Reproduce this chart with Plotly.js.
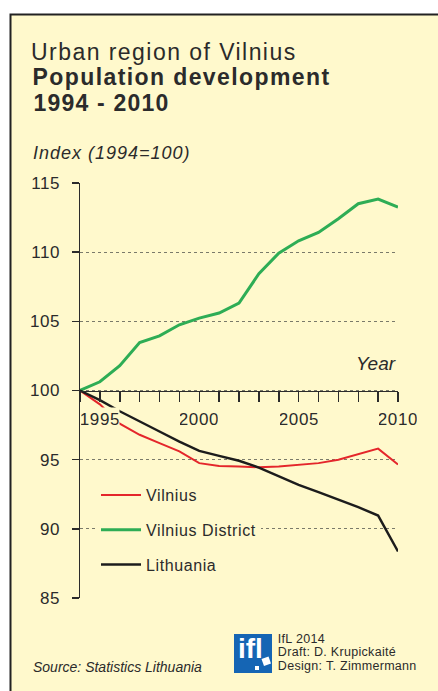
<!DOCTYPE html>
<html>
<head>
<meta charset="utf-8">
<script src="https://cdn.plot.ly/plotly-3.0.1.min.js"></script>
<style>
html,body{margin:0;padding:0;background:#fff;}
#chart{width:438px;height:691px;}
.gtitle{letter-spacing:1.45px;}
.legendtext{letter-spacing:0.6px;}
.ytick text{letter-spacing:0.6px;}
</style>
</head>
<body>
<div id="chart"></div>
<script>
// ---- data ----
const years = [1994, 1995, 1996, 1997, 1998, 1999, 2000, 2001, 2002, 2003, 2004, 2005, 2006, 2007, 2008, 2009, 2010];
const vilnius = [100, 99.0, 97.6, 96.8, 96.2, 95.6, 94.75, 94.55, 94.5, 94.45, 94.5, 94.6, 94.75, 95.0, 95.4, 95.8, 94.65];
const vilniusDistrict = [100, 100.63, 101.79, 103.47, 103.95, 104.75, 105.23, 105.6, 106.32, 108.44, 109.93, 110.82, 111.43, 112.42, 113.5, 113.84, 113.26];
const lithuania = [100, 99.3, 98.5, 97.79, 97.04, 96.31, 95.64, 95.28, 94.92, 94.43, 93.78, 93.18, 92.65, 92.1, 91.57, 90.96, 88.36];
const seriesNames = ['Vilnius', 'Vilnius District', 'Lithuania'];
const xTickYears = [1995, 2000, 2005, 2010];
const xTickLabels = ['1995', '2000', '2005', '2010'];
const yTickVals = [85, 90, 95, 100, 105, 110, 115];
const yTickLabels = ['85', '90', '95', '100', '105', '110', '115'];

// ---- layout helpers ----
const W = 438, H = 691;
const ML = 80, MR = 40, MT = 183, MB = 93;
const PL = ML, PR = W - MR, PT = MT, PB = H - MB;
const fx = px => (px - PL) / (PR - PL);
const fy = py => (PB - py) / (PB - PT);
const FONT = '"Liberation Sans", Arial, Helvetica, sans-serif';
const TXT = '#2b2b2b';
const BG = '#FFF9CC';

const colors = ['#E4262B', '#2EAD55', '#1c1c1c'];
const widths = [2, 3, 2.4];
const values = [vilnius, vilniusDistrict, lithuania];

const traces = values.map((v, i) => ({
  type: 'scatter', mode: 'lines', x: years, y: v, name: seriesNames[i],
  legendgroup: 'g' + i,
  line: {color: colors[i], width: widths[i]}
}));

const annotations = [];
let css = '';
function txt(text, px, py, size, ls, opts) {
  const n = text.replace(/<[^>]+>/g, '').length;
  const anchor = (opts && opts.xanchor) || 'left';
  let shift = 0;
  if (ls) {
    css += 'g.annotation[data-index="' + annotations.length + '"] text{letter-spacing:' + ls + 'px;}\n';
    shift = anchor === 'left' ? ls * n / 2 : (anchor === 'right' ? -ls * n / 2 : 0);
  }
  annotations.push(Object.assign({
    text: text, xref: 'paper', yref: 'paper', x: fx(px + shift), y: fy(py),
    xanchor: 'left', yanchor: 'middle', showarrow: false,
    font: {family: FONT, size: size, color: TXT}
  }, opts || {}));
}
txt('<b>Population development</b>', 31, 76.7, 23, 1.4);
txt('<b>1994 - 2010</b>', 31, 103.3, 23, 1.2);
txt('<i>Index (1994=100)</i>', 31, 153.3, 18, 1);
txt('<i>Year</i>', 397.5, 363.7, 19, 0, {xanchor: 'right'});
txt('<i>Source: Statistics Lithuania</i>', 31, 666.7, 14, 0);
txt('IfL 2014', 276, 638.8, 12.5, 0.3);
txt('Draft: D. Krupickaité', 276, 652.2, 12.5, 0.3);
txt('Design: T. Zimmermann', 276, 666.3, 12.5, 0.3);
txt('<b>ifl</b>', 250, 648, 28, 0, {xanchor: 'center', font: {family: FONT, size: 28, color: '#ffffff'}});

xTickYears.forEach((yr, i) => {
  css += 'g.annotation[data-index="' + annotations.length + '"] text{letter-spacing:0.6px;}\n';
  annotations.push({
    text: xTickLabels[i], xref: 'x', yref: 'paper', x: yr, y: fy(419.3),
    xanchor: 'center', yanchor: 'middle', showarrow: false,
    bgcolor: BG, borderpad: 0, height: 22,
    font: {family: FONT, size: 17, color: TXT}
  });
});
const styleEl = document.createElement('style');
styleEl.textContent = css;
document.head.appendChild(styleEl);

const shapes = [
  {type: 'rect', xref: 'paper', yref: 'paper', x0: fx(10.5), x1: fx(470), y0: fy(730), y1: fy(14.5),
   fillcolor: BG, line: {color: '#222', width: 2}, layer: 'below'},
  {type: 'rect', xref: 'paper', yref: 'paper', x0: fx(234), x1: fx(272), y0: fy(673), y1: fy(634),
   fillcolor: '#1565B4', line: {width: 0}, layer: 'above'},
  {type: 'path', xref: 'paper', yref: 'paper', layer: 'above',
   path: 'M' + fx(261.5) + ',' + fy(659) + ' L' + fx(268.5) + ',' + fy(656.5) + ' L' + fx(271) + ',' + fy(663.5) + ' L' + fx(264) + ',' + fy(666) + ' Z',
   fillcolor: '#ffffff', line: {width: 0}},
  {type: 'rect', xref: 'paper', yref: 'paper', x0: fx(255), x1: fx(259), y0: fy(670), y1: fy(666),
   fillcolor: '#ffffff', line: {width: 0}, layer: 'above'}
];

const layout = {
  width: W, height: H,
  margin: {l: ML, r: MR, t: MT, b: MB, pad: 0},
  paper_bgcolor: '#ffffff', plot_bgcolor: 'rgba(0,0,0,0)',
  font: {family: FONT, color: TXT},
  title: {text: 'Urban region of Vilnius', font: {family: FONT, size: 23, color: TXT},
          xref: 'container', yref: 'container', x: 31 / W, xanchor: 'left', y: 1 - 52 / H, yanchor: 'middle'},
  xaxis: {
    range: [1994, 2010], anchor: 'free', position: 0.5,
    showline: true, linecolor: '#2b2b2b', linewidth: 1.5,
    ticks: 'outside', ticklen: 10, tickwidth: 1.5, tickcolor: '#2b2b2b', dtick: 1, tick0: 1994,
    showticklabels: false, showgrid: false, zeroline: false, fixedrange: true
  },
  yaxis: {
    range: [85, 115], tickmode: 'array', tickvals: yTickVals, ticktext: yTickLabels,
    showline: true, linecolor: '#2b2b2b', linewidth: 1.5,
    ticks: 'outside', ticklen: 7, tickwidth: 1.5, tickcolor: '#2b2b2b', ticklabelstandoff: 8,
    tickfont: {family: FONT, size: 17, color: TXT},
    showgrid: true, gridcolor: '#7a7a6a', gridwidth: 1, griddash: 'dot', zeroline: false
  },
  showlegend: true,
  legend: {
    x: fx(96), y: fy(478), xanchor: 'left', yanchor: 'top', bgcolor: BG,
    font: {family: FONT, size: 16, color: TXT}, traceorder: 'grouped', tracegroupgap: 11,
    itemwidth: 40
  },
  annotations: annotations,
  shapes: shapes
};

Plotly.newPlot('chart', traces, layout, {staticPlot: true, displayModeBar: false});
</script>
</body>
</html>
